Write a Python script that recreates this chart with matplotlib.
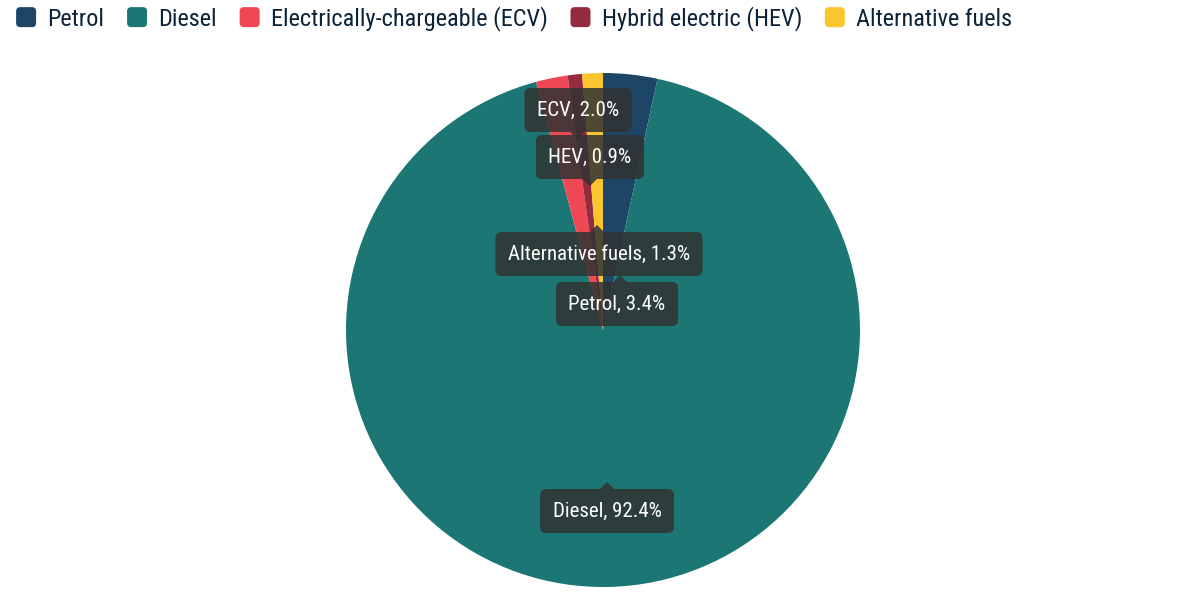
import matplotlib
matplotlib.use('Agg')
import matplotlib.pyplot as plt
from matplotlib.patches import Polygon, Patch, FancyBboxPatch
from matplotlib.legend_handler import HandlerPatch
from matplotlib import font_manager

# ---- data ----
categories = ['Petrol', 'Diesel', 'Electrically-chargeable (ECV)',
              'Hybrid electric (HEV)', 'Alternative fuels']
short_labels = ['Petrol', 'Diesel', 'ECV', 'HEV', 'Alternative fuels']
shares = [3.4, 92.4, 2.0, 0.9, 1.3]

# ---- style ----
colors = ['#1d4565', '#1b7674', '#ef4754', '#952b3f', '#fbc52f']
names = {f.name for f in font_manager.fontManager.ttflist}
FONT = 'Roboto'
for cand in ['Roboto Condensed', 'Liberation Sans Narrow', 'Roboto']:
    if cand in names:
        FONT = cand
        break
plt.rcParams['font.family'] = [FONT, 'DejaVu Sans']

W, H = 1200, 601
fig = plt.figure(figsize=(W / 100, H / 100), dpi=100)
ax = fig.add_axes([0, 0, 1, 1])
cx, cy, R = 603, 330, 257  # pie centre / radius in pixels (layout)

wedges, _ = ax.pie(shares, colors=colors, startangle=90, counterclock=False,
                   radius=1, center=(0, 0), frame=True,
                   wedgeprops=dict(linewidth=0))
ax.set_xlim(-cx / R, (W - cx) / R)
ax.set_ylim(-(H - cy) / R, cy / R)
ax.set_aspect('equal')
ax.axis('off')

# label layout: (box centre dx, dy in px from pie centre, arrow dir, arrow dx px)
label_layout = [
    (14, 26, 'up', 3),       # Petrol
    (4, -181, 'up', 0),      # Diesel
    (-25, 220, 'down', -1),  # ECV
    (-13, 173, 'down', 0),   # HEV
    (-4, 76, 'up', -2),      # Alternative fuels
]
box_fc = (0.19, 0.2, 0.2)
fs = 15
texts = []
for name, val, (dx, dy, d, adx) in zip(short_labels, shares, label_layout):
    t = ax.text(dx / R, dy / R, f'{name}, {val:.1f}%', ha='center',
                va='center', fontsize=fs, color='white', zorder=5,
                bbox=dict(boxstyle='round,pad=0.6,rounding_size=0.3',
                          fc=box_fc, ec='none', alpha=0.85))
    texts.append(t)

fig.canvas.draw()
renderer = fig.canvas.get_renderer()
for t, (dx, dy, d, adx) in zip(texts, label_layout):
    bb = t.get_bbox_patch().get_window_extent(renderer)
    half = bb.height / 2
    ax_ = (dx + adx) / R
    if d == 'up':
        base = (dy + half) / R
        tip = base + 7 / R
    else:
        base = (dy - half) / R
        tip = base - 7 / R
    tri = Polygon([(ax_ - 7 / R, base), (ax_ + 7 / R, base), (ax_, tip)],
                  closed=True, fc=box_fc, ec='none', alpha=0.85, zorder=5)
    ax.add_patch(tri)


class RoundSquare(HandlerPatch):
    def create_artists(self, legend, orig_handle, xdescent, ydescent,
                       width, height, fontsize, trans):
        s = 20 * 72 / 100
        x0 = -xdescent + (width - s) / 2
        y0 = -ydescent + (height - s) / 2
        p = FancyBboxPatch((x0, y0), s, s,
                           boxstyle='round,pad=0,rounding_size=3',
                           fc=orig_handle.get_facecolor(), ec='none',
                           transform=trans)
        return [p]


handles = [Patch(fc=c) for c in colors]
leg = fig.legend(handles, categories, loc='upper left',
                 bbox_to_anchor=(0.001, 1.014), ncol=5, frameon=False,
                 fontsize=17.5, handlelength=0.85, handleheight=0.85,
                 handletextpad=0.45, columnspacing=0.92, borderaxespad=0.2,
                 handler_map={Patch: RoundSquare()})
for t in leg.get_texts():
    t.set_color('#0c2238')

fig.savefig('out.png', dpi=100)
